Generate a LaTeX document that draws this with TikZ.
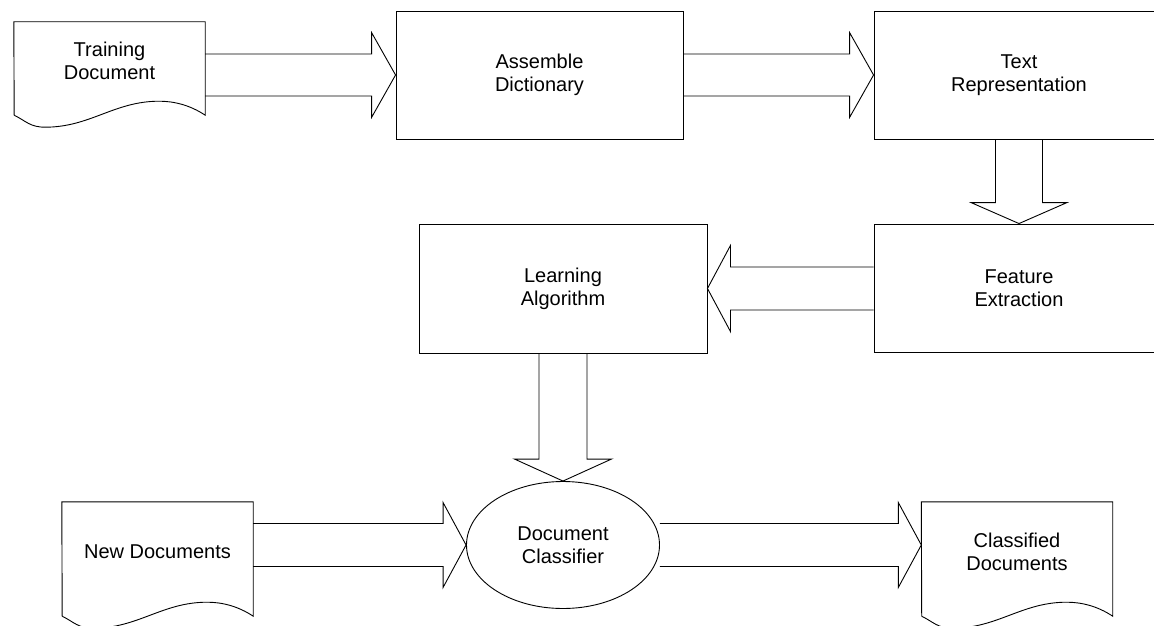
\documentclass[tikz,border=0pt]{standalone}
\usepackage{fontspec}
\setmainfont{Liberation Sans}
\usetikzlibrary{calc,shapes.geometric}
\tikzset{
  ln/.style={draw=black, line width=0.9pt, line join=miter},
  blk/.style={ln},
  boxnode/.style={ln, rectangle, inner sep=0pt, align=center, font=\fontsize{20}{23}\selectfont},
  docnode/.style={rectangle, inner sep=0pt, minimum width=191, align=center, font=\fontsize{20}{23}\selectfont},
  ellnode/.style={ln, ellipse, inner sep=0pt, minimum width=193, minimum height=127, align=center, font=\fontsize{20}{23}\selectfont}
}
% horizontal block arrow: start node anchor, tip anchor, shaft half, head half, head length (signed)
\newcommand\harr[5]{\draw[blk] let \p1=(#1), \p2=(#2) in
  (\x1,\y2+#3pt) -- (\x2-#5pt,\y2+#3pt) -- (\x2-#5pt,\y2+#4pt) -- (\x2,\y2)
  -- (\x2-#5pt,\y2-#4pt) -- (\x2-#5pt,\y2-#3pt) -- (\x1,\y2-#3pt);}
% vertical (downward) block arrow
\newcommand\varr[5]{\draw[blk] let \p1=(#1), \p2=(#2) in
  (\x2+#3pt,\y1) -- (\x2+#3pt,\y2+#5pt) -- (\x2+#4pt,\y2+#5pt) -- (\x2,\y2)
  -- (\x2-#4pt,\y2+#5pt) -- (\x2-#3pt,\y2+#5pt) -- (\x2-#3pt,\y1);}
% document outline around a docnode
\newcommand\docout[2]{\draw[ln] (#1.north west) -- (#1.north east) -- ($(#1.south east)+(0,#2)$)
  .. controls +(-15,-10) and +(15,0) .. ++(-46,-14)
  .. controls +(-45,0) and +(45,0) .. ++(-114,26)
  .. controls +(-15,0) and +(12,6) .. ++(-31,-12)
  -- cycle;}
\begin{document}
\begin{tikzpicture}[x=1pt,y=-1pt]
\fill[white] (0,0) rectangle (1154,626);
\useasboundingbox (0,0) rectangle (1154,626);

% nodes
\node[docnode, minimum height=78] (td) at (109.5,61) {Training\\Document};
\docout{td}{15}
\node[boxnode, minimum width=287, minimum height=128] (ad) at (539.5,75) {Assemble\\Dictionary};
\node[boxnode, minimum width=290, minimum height=128] (tr) at (1019,75) {Text\\Representation};
\node[boxnode, minimum width=290, minimum height=128] (fe) at (1019,288) {Feature\\Extraction};
\node[boxnode, minimum width=288, minimum height=129] (la) at (563,288.5) {Learning\\Algorithm};
\node[ellnode] (dc) at (563,545) {Document\\Classifier};
\node[docnode, minimum height=100] (nd) at (157.5,552) {New Documents};
\docout{nd}{14}
\node[docnode, minimum height=100] (cd) at (1017,552) {Classified\\Documents};
\docout{cd}{14}

% connectors (block arrows)
\harr{td.east}{ad.west}{21}{42.5}{24}
\harr{ad.east}{tr.west}{21}{42.5}{24}
\varr{tr.south}{fe.north}{23.5}{48}{21}
\harr{fe.west}{la.east}{21.5}{43}{-23}
\varr{la.south}{dc.north}{24}{48.5}{22}
\harr{nd.east}{dc.west}{21.5}{42.5}{23}
\harr{dc.east}{cd.west |- dc.east}{21.5}{42.5}{23}
\end{tikzpicture}
\end{document}
